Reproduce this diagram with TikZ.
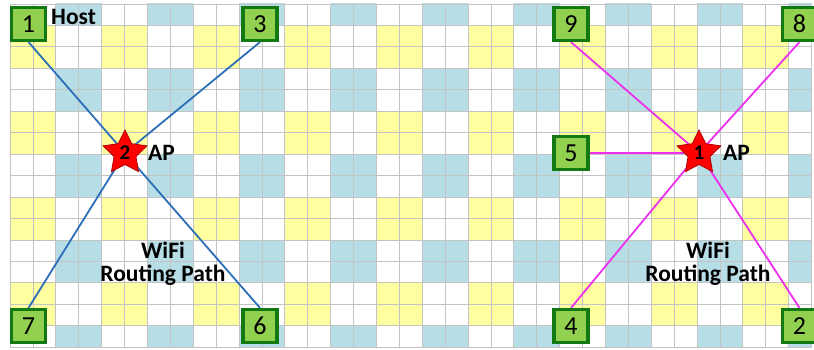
\documentclass[tikz,border=0pt]{standalone}
\usepackage{fontspec}
\setmainfont{Carlito}
\usetikzlibrary{shapes.geometric,backgrounds}
\definecolor{cellyel}{HTML}{FFFF9F}
\definecolor{cellblue}{HTML}{B7DDE6}
\definecolor{gridgray}{HTML}{C4C4C4}
\definecolor{hostfill}{HTML}{92D050}
\definecolor{hostedge}{HTML}{137A13}
\definecolor{wifiblue}{HTML}{2C6FB8}
\definecolor{wifipink}{HTML}{EE30EE}
\definecolor{apedge}{HTML}{B00000}

\begin{document}
\begin{tikzpicture}[x=1pt, y=1pt,
  host/.style={draw=hostedge, line width=3.2pt, fill=hostfill, minimum width=34pt, minimum height=33pt, inner sep=0pt, font=\fontsize{26}{26}\selectfont},
  ap/.style={star, star points=5, star point ratio=2.0, draw=apedge, line width=0.8pt, fill=red, minimum size=46pt, inner sep=0pt, font=\bfseries\fontsize{21}{21}\selectfont},
  lab/.style={font=\bfseries\fontsize{23.5}{23}\selectfont, inner sep=0pt},
  pathL/.style={wifiblue, line width=1.8pt},
  pathR/.style={wifipink, line width=1.8pt}]
  \useasboundingbox (0,0) rectangle (814,349);
  \begin{scope}[on background layer]
    \begin{scope}
      \clip (10,1.8) rectangle (811.5,345);
      \foreach \j in {0,2,...,16} \foreach \b in {1,3,5,7}
        \fill[cellyel] (10+45.8*\j,366.45-42.9*\b) rectangle ++(45.8,-42.9);
      \foreach \j in {1,3,...,17} \foreach \b in {0,2,...,8}
        \fill[cellblue] (10+45.8*\j,366.45-42.9*\b) rectangle ++(45.8,-42.9);
    \end{scope}
    \draw[gridgray, line width=0.8pt, xstep=22.9, ystep=21.45, shift={(10,1.8)}] (0,0) grid (801.6,343.3);
  \end{scope}
  \node[host] (n1) at (28.5,325) {1};
  \node[host] (n3) at (260,325) {3};
  \node[host] (n7) at (28.5,23) {7};
  \node[host] (n6) at (260,23) {6};
  \node[host] (n9) at (571,325) {9};
  \node[host] (n8) at (799.5,325) {8};
  \node[host] (n5) at (571,196) {5};
  \node[host] (n4) at (571,23) {4};
  \node[host] (n2) at (799.5,23) {2};
  \node[ap] (apL) at (125,196) {2};
  \node[ap] (apR) at (699,196) {1};
  \node[lab, anchor=west] (hostlab) at (51,332) {Host};
  \node[lab, anchor=west] (apLlab) at (148,196) {AP};
  \node[lab, anchor=west] (apRlab) at (723,196) {AP};
  \node[lab, align=center] (wifiL) at (163,85) {WiFi\\Routing Path};
  \node[lab, align=center] (wifiR) at (708,85) {WiFi\\Routing Path};
  \begin{scope}[on background layer]
    \foreach \n/\a in {n1/south, n3/south, n7/north, n6/north}
      \draw[pathL] (apL.center) -- (\n.\a);
    \foreach \n/\a in {n9/south, n8/south, n5/east, n4/north, n2/north}
      \draw[pathR] (apR.center) -- (\n.\a);
  \end{scope}
\end{tikzpicture}
\end{document}
